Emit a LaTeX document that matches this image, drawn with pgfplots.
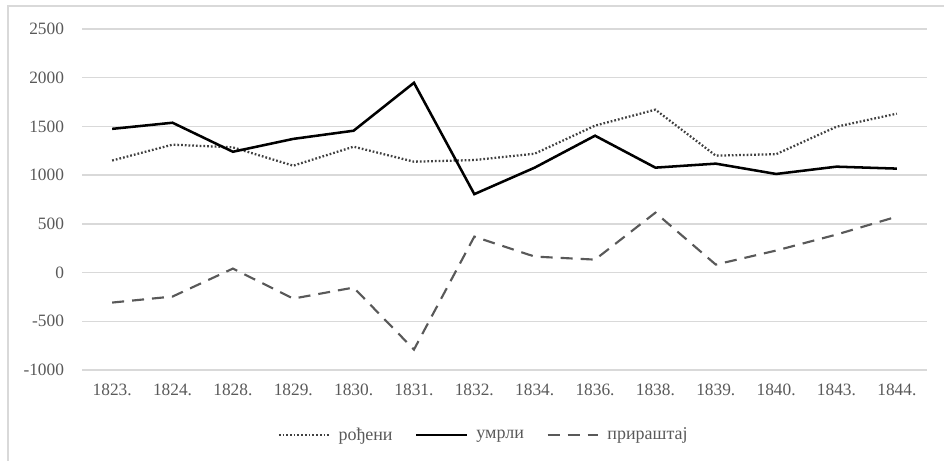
\documentclass[border=0pt]{standalone}
\usepackage{fontspec}
\setmainfont{Liberation Serif}
\usepackage{pgfplots}
\pgfplotsset{compat=1.18}
\definecolor{gridgray}{HTML}{D9D9D9}
\definecolor{textgray}{HTML}{595959}
\definecolor{dotgray}{HTML}{404040}
\definecolor{dashgray}{HTML}{595959}
\begin{document}
\begin{tikzpicture}
\path[use as bounding box] (0,0) rectangle (708pt,345pt);
\draw[gridgray, line width=0.8pt] (6pt,-10pt) rectangle (720pt,340.5pt);
\begin{axis}[
  at={(61.5pt,67.5pt)}, anchor=south west,
  scale only axis, width=633.75pt, height=255.75pt,
  xmin=-0.5, xmax=13.5, ymin=-1000, ymax=2500,
  ytick={-1000,-500,0,500,1000,1500,2000,2500},
  yticklabels={-1000,-500,0,500,1000,1500,2000,2500},
  xtick={0,...,13},
  xticklabels={1823.,1824.,1828.,1829.,1830.,1831.,1832.,1834.,1836.,1838.,1839.,1840.,1843.,1844.},
  axis line style={draw=none},
  major tick length=0pt,
  ymajorgrids, grid style={gridgray, line width=1pt},
  tick label style={font=\fontsize{13}{15}\selectfont, text=textgray},
  yticklabel style={xshift=-10pt},
  xticklabel style={yshift=-7pt},
  legend columns=-1,
  legend style={at={(0.4757,-0.1906)}, anchor=center, draw=none, fill=none,
    font=\fontsize{13.5}{15}\selectfont, text=textgray,
    /tikz/every odd column/.append style={column sep=4pt},
    /tikz/every even column/.append style={column sep=15pt}},
  legend image code/.code={\draw[#1] (0pt,0pt) -- (38pt,0pt);},
]
\addplot[dotgray, line width=1.7pt, dash pattern=on 1.3pt off 1.5pt] coordinates {
 (0,1150) (1,1313) (2,1285) (3,1097) (4,1292) (5,1138) (6,1155) (7,1220) (8,1508) (9,1672) (10,1200) (11,1215) (12,1497) (13,1631)};
\addlegendentry{рођени}
\addplot[black, line width=1.9pt] coordinates {
 (0,1475) (1,1538) (2,1240) (3,1372) (4,1456) (5,1948) (6,805) (7,1077) (8,1405) (9,1077) (10,1118) (11,1012) (12,1087) (13,1067)};
\addlegendentry{умрли}
\addplot[dashgray, line width=1.6pt, dash pattern=on 9pt off 6pt] coordinates {
 (0,-308) (1,-246) (2,41) (3,-267) (4,-154) (5,-790) (6,369) (7,164) (8,133) (9,615) (10,82) (11,226) (12,390) (13,574)};
\addlegendentry{прираштај}
\end{axis}
\end{tikzpicture}
\end{document}
